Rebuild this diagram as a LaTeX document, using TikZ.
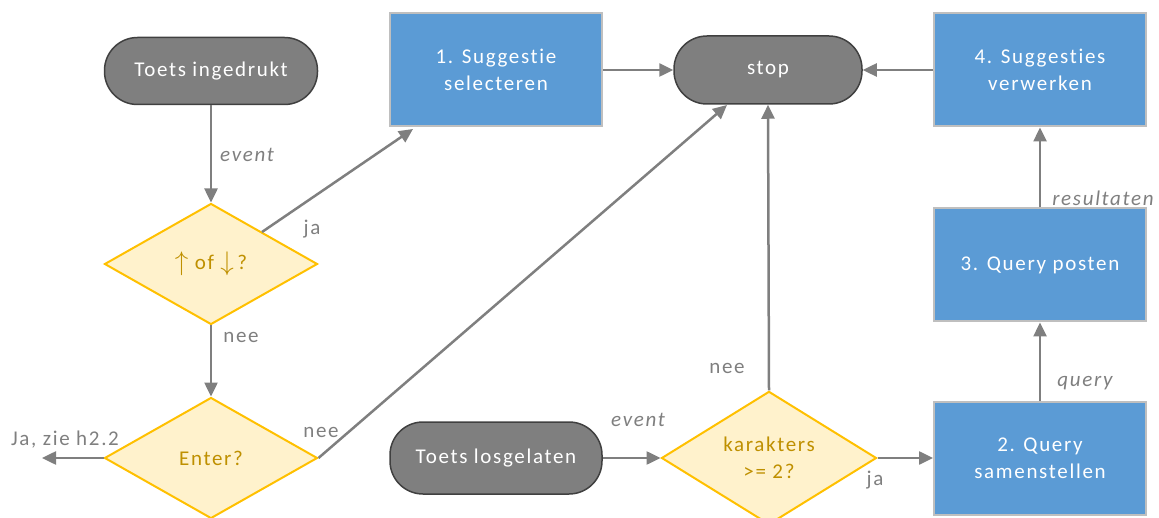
\documentclass[tikz,border=0pt]{standalone}
\usepackage{fontspec}
\setmainfont[LetterSpace=8,Ligatures=NoCommon]{Carlito}
\usetikzlibrary{shapes.geometric,arrows.meta}
\definecolor{flowgray}{HTML}{7F7F7F}
\definecolor{termfill}{HTML}{7F7F7F}
\definecolor{termline}{HTML}{404040}
\definecolor{boxfill}{HTML}{5B9BD5}
\definecolor{boxline}{HTML}{BFBFBF}
\definecolor{decfill}{HTML}{FFF2CC}
\definecolor{decline}{HTML}{FFC000}
\definecolor{dectext}{HTML}{BF9000}
\tikzset{
  basefont/.style={font=\fontsize{21}{27}\selectfont},
  terminal/.style={basefont, draw=termline, fill=termfill, text=white, line width=1.5pt,
    rounded corners=33pt, minimum width=213pt, minimum height=67pt, inner sep=0pt, align=center},
  process/.style={basefont, draw=boxline, fill=boxfill, text=white, line width=2pt,
    minimum width=212pt, minimum height=113pt, inner sep=0pt, align=center},
  decision/.style={basefont, shape=diamond, draw=decline, fill=decfill, text=dectext, line width=2pt,
    minimum width=213pt, minimum height=121pt, inner sep=0pt, align=center},
  flow/.style={draw=flowgray, line width=2.5pt, -{Triangle[length=14pt,width=13pt]}},
  lbl/.style={basefont, text=flowgray, inner sep=0pt},
  ilbl/.style={lbl, font=\fontsize{21}{27}\selectfont\itshape},
}
\newcommand{\bigarrow}[1]{\raisebox{-1pt}{\scalebox{1.3}{$#1$}}}
\begin{document}
\begin{tikzpicture}[x=1pt,y=-1pt]
\useasboundingbox (0,0) rectangle (1159,518);

% nodes
\node[terminal] (start1) at (211,71) {Toets ingedrukt};
\node[decision] (updown) at (211,264) {\bigarrow{\uparrow} of \bigarrow{\downarrow}\,?};
\node[decision] (enter) at (211,458) {Enter?};
\node[process] (select) at (496,70) {1. Suggestie\\selecteren};
\node[terminal, minimum width=188pt, minimum height=68pt] (stop) at (768,70) {stop};
\node[process] (process4) at (1040,70) {4. Suggesties\\verwerken};
\node[process] (post3) at (1040,265) {3. Query posten};
\node[process] (build2) at (1040,458) {2. Query\\samenstellen};
\node[terminal, minimum width=212pt, minimum height=72pt] (start2) at (496,458) {Toets losgelaten};
\node[decision, minimum width=215pt] (chars) at (769,458) {karakters\\>= 2?};

\coordinate (jaend) at (42,458);

% connectors
\draw[flow] (start1) -- (updown);
\draw[flow] (updown) -- (enter);
\draw[flow] (262,232) -- (413,129);
\draw[flow] (enter.east) -- (727,105);
\draw[flow] (enter.west) -- (jaend);
\draw[flow] (select.east) -- (stop.west);
\draw[flow] (process4.west) -- (stop.east);
\draw[flow] (chars.north) -- (stop.south);
\draw[flow] (start2.east) -- (chars.west);
\draw[flow] (chars.east) -- (build2.west);
\draw[flow] (build2.north) -- (post3.south);
\draw[flow] (post3.north) -- (process4.south);

% labels
\node[ilbl] at (247,155) {event};
\node[lbl] at (312,229) {ja};
\node[lbl] at (241,337) {nee};
\node[lbl] at (321,432) {nee};
\node[lbl] at (65,440) {Ja, zie h2.2};
\node[ilbl] at (638,420) {event};
\node[lbl] at (727,368) {nee};
\node[lbl] at (875,480) {ja};
\node[ilbl] at (1085,383) {query};
\node[ilbl] at (1103,198) {resultaten};
\end{tikzpicture}
\end{document}
